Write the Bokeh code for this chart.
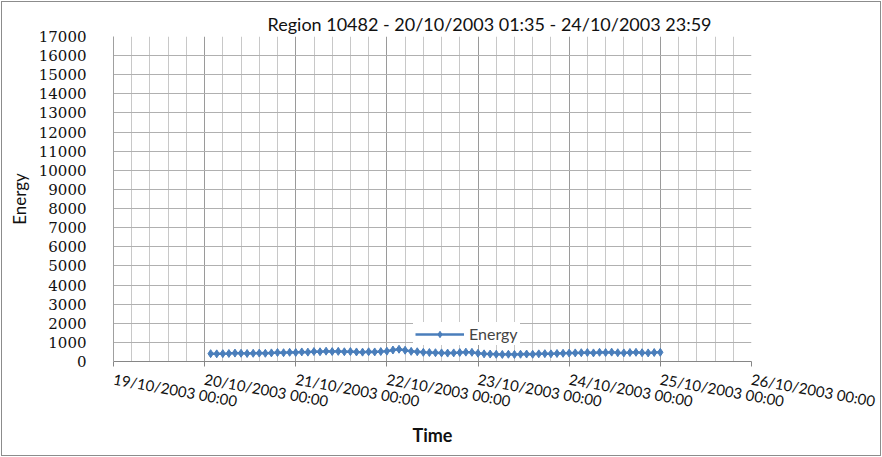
from datetime import datetime, timedelta
from bokeh.plotting import figure
from bokeh.models import (DatetimeTickFormatter, FixedTicker, Range1d,
                          Legend, LegendItem, SingleIntervalTicker)
from bokeh.embed import file_html
from bokeh.resources import INLINE

# ---------------- data ----------------
title_text = "Region 10482 - 20/10/2003 01:35 -  24/10/2003 23:59"
series_name = "Energy"
x_title = "Time"
y_title = "Energy"
sample_start = datetime(2003, 10, 20, 1, 35)
sample_step_minutes = 96
energy = [
    410, 400, 410, 420, 440, 430, 420, 430, 440, 430, 450, 470, 460, 480, 470,
    500, 490, 520, 510, 540, 520, 530, 510, 520, 500, 490, 510, 500, 520, 540,
    600, 640, 590, 530, 510, 480, 470, 460, 450, 440, 450, 470, 490, 480, 430,
    400, 390, 380, 370, 380, 370, 380, 390, 380, 400, 410, 400, 420, 430, 440,
    450, 460, 470, 450, 480, 470, 490, 460, 450, 470, 480, 460, 450, 470, 480,
]
x_tick_days = [19, 20, 21, 22, 23, 24, 25, 26]
y_ticks = list(range(0, 17001, 1000))
y_max = 17000

times = [sample_start + timedelta(minutes=sample_step_minutes * i) for i in range(len(energy))]


def ms(d):
    return (d - datetime(1970, 1, 1)).total_seconds() * 1000.0


day_ms = [ms(datetime(2003, 10, d)) for d in x_tick_days]
minor_ms = []
for a, b in zip(day_ms[:-1], day_ms[1:]):
    for k in range(1, 5):
        minor_ms.append(a + (b - a) * k / 5)

BLUE = "#4a7ebb"
SANS = "Lato"

p = figure(width=878, height=453, x_axis_type="datetime",
           output_backend="svg", toolbar_location=None,
           x_range=Range1d(day_ms[0], day_ms[-1]), y_range=Range1d(0, y_max),
           min_border_left=111, min_border_right=129,
           min_border_top=34, min_border_bottom=94)
p.styles = {"margin": "2px", "outline": "1px solid #8c8c8c"}
p.background_fill_color = "white"
p.border_fill_color = "white"
p.outline_line_color = None

# title
p.title.text = title_text
p.title.align = "left"
p.title.offset = 154
p.title.text_font = SANS
p.title.text_font_size = "18px"
p.title.text_font_style = "normal"
p.title.text_color = "#111111"
p.title.standoff = 4

# x axis
xt = FixedTicker(ticks=day_ms, minor_ticks=minor_ms)
p.xaxis.ticker = xt
p.xaxis.formatter = DatetimeTickFormatter(days="%d/%m/%Y %H:%M", months="%d/%m/%Y %H:%M",
                                          hours="%d/%m/%Y %H:%M")
p.xaxis.major_label_orientation = -0.18
p.xaxis.major_label_text_font = SANS
p.xaxis.major_label_text_font_size = "15px"
p.xaxis.major_label_text_color = "#111111"
p.xaxis.major_label_standoff = 12
p.xaxis.axis_line_color = "#868686"
p.xaxis.major_tick_line_color = "#868686"
p.xaxis.major_tick_out = 5
p.xaxis.major_tick_in = 0
p.xaxis.minor_tick_line_color = None
p.xaxis.axis_label = x_title
p.xaxis.axis_label_text_font = SANS
p.xaxis.axis_label_text_font_size = "18px"
p.xaxis.axis_label_text_font_style = "bold"
p.xaxis.axis_label_text_color = "#111111"
p.xaxis.axis_label_standoff = 2

# y axis
p.yaxis.ticker = FixedTicker(ticks=y_ticks)
p.yaxis.major_label_text_font = "DejaVu Serif"
p.yaxis.major_label_text_font_size = "15px"
p.yaxis.major_label_text_color = "#111111"
p.yaxis.major_label_standoff = 21
p.yaxis.axis_line_color = "#a0a0a0"
p.yaxis.major_tick_line_color = None
p.yaxis.minor_tick_line_color = None
p.yaxis.axis_label = y_title
p.yaxis.axis_label_text_font = SANS
p.yaxis.axis_label_text_font_size = "17px"
p.yaxis.axis_label_text_font_style = "normal"
p.yaxis.axis_label_text_color = "#111111"
p.yaxis.axis_label_standoff = 6

for ax in (p.xaxis[0], p.yaxis[0]):
    try:
        ax.axis_label_align = "left"
    except Exception:
        pass

# grids
p.xgrid.ticker = xt
p.xgrid.grid_line_color = "#9a9a9a"
p.xgrid.minor_grid_line_color = "#c8c8c8"
p.ygrid.ticker = SingleIntervalTicker(interval=1000)
p.ygrid.grid_line_color = "#b0b0b0"

# data
r_line = p.line(times, energy, line_color=BLUE, line_width=2.5)
r_pts = p.scatter(times, energy, marker="diamond", size=8,
                  fill_color=BLUE, line_color=BLUE)

legend = Legend(items=[LegendItem(label=series_name, renderers=[r_line, r_pts])],
                location=(300, 16), orientation="horizontal",
                glyph_width=49, glyph_height=16, label_standoff=5,
                label_text_font=SANS, label_text_font_size="16px",
                padding=2, margin=0, border_line_alpha=0,
                background_fill_color="white", background_fill_alpha=1.0)
p.add_layout(legend)

open("out.html", "w").write(file_html(p, INLINE))
